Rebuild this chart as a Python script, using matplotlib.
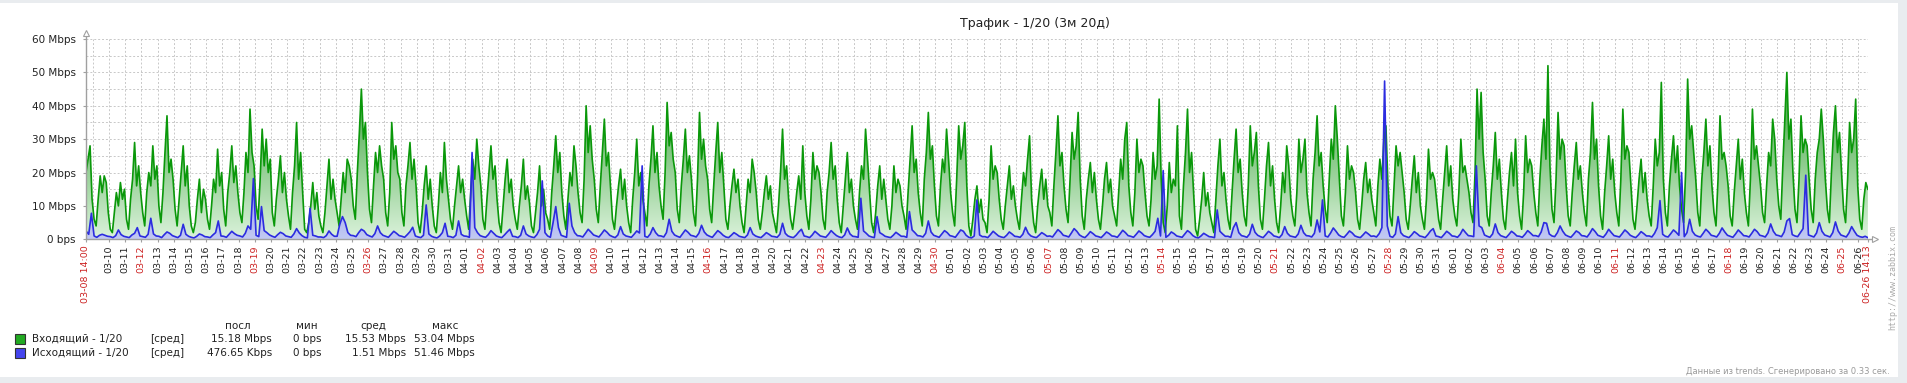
import numpy as np
import matplotlib
matplotlib.use("Agg")
import matplotlib.pyplot as plt
import matplotlib.dates as mdates
from matplotlib.patches import Polygon, Rectangle

# incoming: samples every 3 hours (02, 05, 08, 11, 14, 17, 20, 23);
# first day starts 14:00, last day ends 14:00
incoming_mbps = [
    [20, 24, 28, 12],                       # 03-08
    [6, 4, 12, 19, 14, 19, 17, 8],          # 03-09
    [3, 2, 8, 14, 10, 17, 12, 15],
    [6, 3, 12, 18, 29, 16, 22, 14],
    [8, 4, 14, 20, 16, 28, 18, 22],
    [10, 5, 14, 26, 37, 20, 24, 18],
    [9, 4, 12, 20, 28, 16, 22, 10],
    [4, 2, 5, 12, 18, 8, 15, 12],
    [6, 3, 10, 18, 14, 27, 16, 20],
    [9, 4, 14, 20, 28, 17, 22, 14],
    [8, 5, 14, 26, 20, 39, 26, 22],         # 03-18
    [10, 6, 18, 33, 22, 30, 20, 24],
    [8, 4, 12, 18, 25, 14, 20, 12],
    [7, 3, 14, 22, 35, 18, 26, 14],
    [3, 2, 5, 10, 17, 9, 14, 7],
    [4, 2, 8, 16, 24, 12, 18, 12],
    [8, 4, 12, 20, 14, 24, 22, 18],
    [10, 6, 20, 32, 45, 30, 35, 20],        # 03-25
    [9, 5, 16, 26, 20, 28, 22, 18],
    [8, 4, 14, 35, 24, 28, 20, 18],
    [8, 4, 16, 22, 29, 18, 24, 16],
    [5, 2, 8, 16, 22, 12, 18, 10],
    [4, 2, 10, 20, 14, 29, 18, 12],
    [6, 3, 10, 16, 22, 14, 18, 12],         # 03-31
    [7, 3, 14, 24, 18, 30, 22, 16],
    [6, 3, 12, 20, 28, 18, 22, 12],
    [5, 2, 10, 18, 24, 14, 18, 10],
    [6, 3, 10, 16, 24, 12, 16, 11],
    [4, 2, 8, 14, 22, 10, 15, 8],
    [6, 3, 14, 22, 31, 20, 26, 14],
    [7, 3, 12, 20, 16, 28, 22, 14],
    [8, 5, 18, 40, 26, 34, 24, 18],         # 04-08
    [9, 5, 16, 26, 36, 22, 26, 16],
    [6, 3, 10, 16, 21, 12, 18, 10],
    [5, 2, 12, 20, 30, 16, 20, 12],
    [8, 4, 16, 24, 34, 20, 26, 16],
    [10, 6, 20, 41, 28, 32, 24, 20],
    [9, 5, 16, 24, 33, 20, 25, 18],
    [8, 4, 18, 38, 24, 30, 22, 18],         # 04-15
    [9, 5, 16, 26, 35, 20, 26, 16],
    [6, 3, 10, 16, 21, 14, 18, 10],
    [5, 2, 10, 18, 14, 24, 20, 14],
    [6, 3, 8, 14, 19, 12, 16, 8],
    [5, 2, 10, 20, 33, 18, 22, 12],
    [6, 3, 8, 14, 19, 12, 28, 14],
    [7, 3, 12, 26, 18, 22, 20, 14],         # 04-22
    [6, 3, 14, 20, 29, 18, 22, 12],
    [5, 2, 10, 18, 26, 14, 18, 10],
    [6, 3, 14, 22, 18, 33, 24, 14],
    [5, 2, 8, 16, 22, 12, 18, 12],
    [6, 3, 10, 22, 14, 18, 16, 10],
    [7, 3, 14, 24, 34, 20, 24, 14],
    [8, 4, 18, 26, 38, 24, 28, 16],         # 04-29
    [7, 4, 16, 24, 20, 33, 24, 14],
    [8, 4, 18, 34, 24, 28, 35, 16],
    [4, 1, 6, 12, 16, 8, 12, 6],
    [5, 2, 12, 28, 18, 22, 20, 12],
    [6, 3, 10, 16, 22, 12, 16, 10],
    [6, 3, 12, 20, 16, 24, 31, 12],
    [5, 2, 10, 16, 21, 12, 18, 10],         # 05-06
    [8, 4, 16, 26, 37, 22, 26, 16],
    [9, 5, 18, 32, 24, 28, 38, 18],
    [7, 3, 12, 18, 23, 14, 20, 12],
    [6, 3, 10, 18, 23, 14, 18, 10],
    [7, 4, 14, 24, 18, 30, 35, 16],
    [8, 4, 14, 30, 20, 24, 22, 14],
    [7, 4, 12, 26, 18, 22, 42, 18],         # 05-13
    [5, 2, 10, 23, 14, 18, 16, 34],
    [7, 3, 16, 26, 39, 20, 26, 14],
    [3, 1, 6, 12, 20, 10, 14, 8],
    [5, 2, 12, 22, 30, 16, 20, 12],
    [6, 3, 14, 24, 33, 20, 24, 14],
    [7, 4, 16, 34, 22, 26, 32, 16],
    [6, 3, 12, 22, 29, 16, 22, 12],         # 05-20
    [5, 2, 10, 20, 14, 28, 22, 12],
    [7, 4, 14, 30, 20, 24, 30, 14],
    [8, 4, 18, 26, 37, 22, 26, 16],
    [9, 5, 18, 30, 24, 40, 30, 18],
    [7, 4, 14, 28, 18, 22, 20, 14],
    [6, 3, 10, 18, 23, 14, 18, 12],
    [8, 4, 16, 24, 18, 30, 34, 16],         # 05-27
    [7, 4, 16, 28, 22, 26, 20, 14],
    [6, 3, 10, 18, 25, 14, 20, 10],
    [6, 3, 12, 27, 18, 20, 18, 12],
    [6, 3, 12, 20, 28, 16, 22, 12],
    [7, 4, 14, 30, 20, 22, 18, 14],
    [8, 5, 20, 45, 30, 44, 26, 18],
    [7, 4, 14, 22, 32, 18, 24, 14],         # 06-03
    [6, 3, 12, 20, 26, 16, 30, 14],
    [7, 3, 14, 31, 20, 24, 22, 14],
    [8, 4, 18, 28, 36, 24, 52, 22],
    [9, 5, 18, 38, 24, 30, 28, 16],
    [7, 4, 14, 22, 29, 18, 22, 14],
    [8, 4, 18, 26, 41, 24, 30, 16],
    [7, 3, 14, 22, 31, 18, 24, 14],         # 06-10
    [8, 4, 18, 39, 24, 28, 26, 16],
    [6, 3, 10, 18, 24, 14, 20, 12],
    [7, 4, 16, 30, 22, 26, 47, 18],
    [8, 4, 16, 24, 31, 20, 28, 16],
    [9, 5, 20, 48, 30, 34, 26, 18],
    [8, 4, 18, 26, 36, 22, 28, 16],
    [8, 4, 18, 37, 24, 26, 22, 16],         # 06-17
    [7, 4, 14, 22, 30, 18, 24, 14],
    [8, 4, 18, 39, 24, 28, 22, 16],
    [8, 5, 16, 26, 22, 36, 30, 18],
    [10, 6, 22, 36, 50, 30, 36, 20],
    [9, 5, 18, 37, 26, 30, 28, 18],
    [9, 5, 18, 26, 30, 39, 30, 18],
    [9, 5, 20, 32, 40, 26, 32, 20],         # 06-24
    [9, 5, 18, 35, 26, 30, 42, 16],
    [6, 3, 12, 17, 15],                     # 06-26
]

# outgoing: samples every 4 hours (02, 06, 10, 14, 18, 22)
outgoing_mbps = [
    [2.5, 1.5, 7.8],
    [1.0, 0.6, 1.2, 1.5, 1.2, 0.9],
    [0.8, 0.5, 1.1, 2.8, 1.4, 0.9],
    [0.7, 0.5, 1.3, 1.8, 3.5, 1.0],
    [0.8, 0.6, 1.5, 6.3, 1.6, 1.0],
    [0.9, 0.5, 1.4, 2.2, 1.8, 1.1],
    [0.8, 0.5, 1.2, 4.5, 1.5, 0.9],
    [0.6, 0.4, 0.9, 1.6, 1.3, 0.8],
    [0.7, 0.5, 1.3, 2.0, 5.5, 1.0],
    [0.9, 0.6, 1.5, 2.4, 1.7, 1.2],
    [1.0, 0.7, 1.8, 4.0, 3.0, 18.2],
    [1.2, 0.8, 9.8, 2.6, 2.0, 1.3],
    [0.9, 0.6, 1.4, 2.1, 1.7, 1.0],
    [0.8, 0.6, 1.6, 3.2, 1.9, 1.1],
    [0.6, 0.4, 9.3, 1.2, 1.0, 0.7],
    [0.7, 0.5, 1.1, 2.5, 1.5, 0.9],
    [0.9, 4.5, 6.8, 5.0, 2.0, 1.2],
    [1.1, 0.8, 2.0, 3.0, 2.5, 1.4],
    [1.0, 0.7, 1.7, 4.0, 2.0, 1.2],
    [0.9, 0.6, 1.5, 2.4, 1.8, 1.1],
    [0.9, 0.6, 1.4, 2.3, 3.6, 1.0],
    [0.7, 0.5, 1.2, 10.3, 1.6, 0.9],
    [0.6, 0.4, 1.0, 2.0, 4.8, 0.9],
    [0.8, 0.5, 1.2, 5.5, 1.5, 1.0],
    [0.9, 0.6, 26.0, 3.5, 2.0, 1.1],
    [0.8, 0.6, 1.4, 2.6, 1.8, 1.0],
    [0.7, 0.5, 1.3, 2.2, 3.0, 0.9],
    [0.8, 0.5, 1.2, 4.0, 1.6, 1.0],
    [0.7, 0.5, 1.4, 3.0, 17.5, 2.0],
    [1.0, 0.6, 5.0, 9.8, 3.5, 1.2],
    [0.9, 0.6, 10.8, 4.0, 2.0, 1.1],
    [1.0, 0.7, 1.8, 3.0, 2.2, 1.3],
    [1.0, 0.7, 1.7, 2.8, 2.1, 1.2],
    [0.8, 0.5, 1.3, 3.8, 1.6, 1.0],
    [0.8, 0.6, 1.5, 2.5, 1.9, 22.0],
    [0.9, 0.6, 1.6, 3.5, 2.0, 1.1],
    [1.0, 0.7, 2.0, 6.0, 2.4, 1.3],
    [0.9, 0.6, 1.7, 2.8, 2.1, 1.2],
    [1.0, 0.7, 1.8, 4.2, 2.2, 1.3],
    [0.9, 0.6, 1.6, 2.6, 2.0, 1.2],
    [0.7, 0.5, 1.2, 2.0, 1.5, 0.9],
    [0.7, 0.5, 1.3, 3.5, 1.6, 1.0],
    [0.7, 0.5, 1.2, 2.0, 1.5, 0.9],
    [0.8, 0.6, 1.5, 4.8, 1.8, 1.0],
    [0.7, 0.5, 1.2, 2.2, 3.0, 1.0],
    [0.8, 0.5, 1.3, 2.4, 1.7, 1.0],
    [0.8, 0.6, 1.5, 2.6, 1.8, 1.1],
    [0.7, 0.5, 1.3, 3.4, 1.6, 0.9],
    [0.8, 0.6, 12.3, 2.5, 1.8, 1.0],
    [0.7, 0.5, 6.8, 2.0, 1.5, 0.9],
    [0.7, 0.5, 1.2, 2.1, 1.5, 0.9],
    [0.9, 0.6, 8.3, 2.8, 2.0, 1.1],
    [1.0, 0.7, 1.8, 5.5, 2.2, 1.2],
    [0.9, 0.6, 1.6, 2.6, 2.0, 1.1],
    [0.9, 0.6, 1.7, 2.8, 2.4, 1.2],
    [0.6, 0.4, 1.0, 11.8, 1.3, 0.8],
    [0.8, 0.5, 1.4, 2.4, 1.7, 1.0],
    [0.7, 0.5, 1.2, 2.2, 1.6, 0.9],
    [0.8, 0.6, 1.5, 3.6, 1.8, 1.0],
    [0.7, 0.5, 1.2, 2.0, 1.5, 0.9],
    [1.0, 0.7, 1.8, 2.9, 2.2, 1.2],
    [1.0, 0.7, 1.9, 3.2, 2.4, 1.3],
    [0.8, 0.5, 1.3, 2.3, 1.7, 1.0],
    [0.8, 0.5, 1.3, 2.2, 1.7, 1.0],
    [0.9, 0.6, 1.6, 2.7, 2.0, 1.1],
    [0.9, 0.6, 1.5, 2.5, 1.9, 1.1],
    [0.8, 0.6, 1.4, 2.4, 6.3, 1.0],
    [20.6, 0.6, 1.2, 2.2, 1.7, 1.0],
    [0.8, 0.6, 1.6, 2.6, 2.0, 1.1],
    [0.6, 0.4, 1.0, 1.8, 1.3, 0.8],
    [0.7, 0.5, 8.8, 2.4, 1.6, 0.9],
    [0.9, 0.6, 3.5, 5.0, 2.0, 1.1],
    [0.9, 0.6, 1.6, 4.5, 2.1, 1.2],
    [0.8, 0.5, 1.4, 2.4, 1.8, 1.0],
    [0.8, 0.5, 1.4, 3.8, 1.8, 1.0],
    [0.8, 0.6, 1.6, 4.2, 2.0, 1.1],
    [1.0, 0.7, 1.8, 5.8, 2.2, 11.8],
    [1.0, 0.7, 1.9, 3.4, 2.4, 1.3],
    [0.8, 0.6, 1.5, 2.5, 1.9, 1.0],
    [0.7, 0.5, 1.3, 2.2, 1.6, 0.9],
    [1.0, 0.7, 1.7, 3.5, 47.4, 4.0],
    [0.9, 0.6, 1.6, 6.8, 2.0, 1.1],
    [0.8, 0.5, 1.3, 2.3, 1.7, 1.0],
    [0.8, 0.5, 1.4, 2.5, 3.2, 1.0],
    [0.8, 0.5, 1.4, 2.4, 1.8, 1.0],
    [0.9, 0.6, 1.5, 3.0, 2.0, 1.1],
    [1.0, 0.8, 22.0, 4.0, 3.5, 1.3],
    [0.9, 0.6, 1.6, 4.6, 2.0, 1.1],
    [0.8, 0.5, 1.4, 2.4, 1.8, 1.0],
    [0.9, 0.6, 1.5, 2.6, 1.9, 1.1],
    [1.1, 0.8, 2.2, 5.0, 4.8, 1.6],
    [1.0, 0.8, 2.0, 4.0, 2.4, 1.3],
    [0.9, 0.6, 1.5, 2.5, 2.0, 1.1],
    [1.0, 0.7, 1.8, 3.2, 2.3, 1.2],
    [0.9, 0.6, 1.6, 3.0, 2.0, 1.1],
    [0.9, 0.7, 1.7, 2.8, 2.1, 1.2],
    [0.8, 0.5, 1.3, 2.3, 1.7, 1.0],
    [1.0, 0.7, 1.8, 3.5, 11.6, 1.5],
    [0.9, 0.7, 1.7, 2.8, 2.1, 1.2],
    [20.0, 0.8, 2.0, 6.0, 2.4, 1.3],
    [0.9, 0.7, 1.8, 3.0, 2.2, 1.2],
    [1.0, 0.7, 1.8, 3.4, 2.2, 1.2],
    [0.9, 0.6, 1.6, 2.8, 2.0, 1.1],
    [1.0, 0.7, 1.8, 3.0, 2.3, 1.2],
    [1.0, 0.7, 1.9, 4.6, 2.4, 1.3],
    [1.1, 0.8, 2.2, 5.5, 6.2, 1.4],
    [1.0, 0.8, 2.0, 3.2, 19.2, 1.3],
    [1.0, 0.7, 1.9, 5.0, 2.4, 1.3],
    [1.0, 0.7, 2.0, 5.2, 2.5, 1.3],
    [1.0, 0.7, 1.9, 3.8, 2.4, 1.2],
    [0.8, 0.6, 0.9, 0.5],
]

legend_names = ["Входящий - 1/20", "Исходящий - 1/20"]
legend_last = ["15.18 Mbps", "476.65 Kbps"]
legend_min = ["0 bps", "0 bps"]
legend_avg = ["15.53 Mbps", "1.51 Mbps"]
legend_max = ["53.04 Mbps", "51.46 Mbps"]

W, H = 1908, 383
GREEN = "#0a980a"
BLUE = "#2c2ce0"

inc = np.concatenate([np.array(r, float) for r in incoming_mbps])
out = np.concatenate([np.array(r, float) for r in outgoing_mbps])
t0 = np.datetime64("2012-03-08T14:00")
t_end = np.datetime64("2012-06-26T14:13")
t_inc = mdates.date2num(t0 + np.arange(len(inc)) * np.timedelta64(3, "h"))
t_out = mdates.date2num(t0 + np.arange(len(out)) * np.timedelta64(4, "h"))
xmin, xmax = mdates.date2num(t0), mdates.date2num(t_end)

fig = plt.figure(figsize=(W / 100, H / 100), dpi=100, facecolor="#e9ecef")
fig.patches.append(Rectangle((0, 6 / H), 1898 / W, 1 - 9 / H, transform=fig.transFigure,
                             facecolor="white", edgecolor="none", zorder=-10))

x0, x1, ytop, ybot = 86, 1868, 39, 239.3
ax = fig.add_axes([x0 / W, 1 - ybot / H, (x1 - x0) / W, (ybot - ytop) / H])
ax.set_facecolor("none")


def gradient_fill(xs, ys, c_lo, c_hi, z):
    verts = np.column_stack([np.r_[xs[0], xs, xs[-1]], np.r_[0, ys, 0]])
    patch = Polygon(verts, closed=True, facecolor="none", edgecolor="none")
    ax.add_patch(patch)
    g = np.linspace(0, 1, 256)[:, None, None]
    lo, hi = np.array(c_lo), np.array(c_hi)
    img = lo[None, None, :] + (hi - lo)[None, None, :] * g
    im = ax.imshow(img, extent=[xs[0], xs[-1], 0, 60], origin="lower",
                   aspect="auto", zorder=z, interpolation="bilinear")
    im.set_clip_path(patch)


gradient_fill(t_inc, inc, (0.86, 0.95, 0.86), (0.05, 0.55, 0.05), 2)
gradient_fill(t_out, out, (0.76, 0.79, 0.95), (0.20, 0.20, 0.90), 3)
ax.plot(t_inc, inc, color=GREEN, lw=1.2, zorder=4)
ax.plot(t_out, out, color=BLUE, lw=1.2, zorder=5)

ax.set_xlim(xmin, xmax)
ax.set_ylim(0, 60)

# grid
for v in range(5, 61, 5):
    ax.axhline(v, color="#c8c8c8", lw=0.7, ls=(0, (2, 2)), zorder=1)
days = mdates.date2num(np.arange(np.datetime64("2012-03-09"), np.datetime64("2012-06-27"),
                                 np.timedelta64(1, "D")).astype("datetime64[m]"))
for d in days:
    ax.axvline(d, color="#c8c8c8", lw=0.7, ls=(0, (2, 2)), zorder=1)
ax.axvline(xmax, color="#c8c8c8", lw=0.7, ls=(0, (2, 2)), zorder=1)

for s in ax.spines.values():
    s.set_visible(False)
ax.plot([0, 0], [0, 1.03], transform=ax.transAxes, color="#a0a0a0", lw=1, clip_on=False, zorder=6)
ax.plot([0, 1.004], [0, 0], transform=ax.transAxes, color="#a0a0a0", lw=1, clip_on=False, zorder=6)
ax.plot([0], [1.03], transform=ax.transAxes, marker="^", ms=5, mfc="white", mec="#a0a0a0",
        mew=0.8, clip_on=False, zorder=7)
ax.plot([1.004], [0], transform=ax.transAxes, marker=">", ms=5, mfc="white", mec="#a0a0a0",
        mew=0.8, clip_on=False, zorder=7)

# y ticks
yt = list(range(0, 61, 10))
ax.set_yticks(yt)
ax.set_yticklabels(["0 bps"] + [f"{v} Mbps" for v in yt[1:]])
ax.tick_params(axis="y", length=2.5, width=0.8, color="#a0a0a0", pad=5,
               labelsize=7.5, labelcolor="#222222")

# x ticks: start, midnights from 03-10, end
tick_days = days[1:]
xt = [xmin] + list(tick_days) + [xmax]
xl = ["03-08 14:00"] + [mdates.num2date(d).strftime("%m-%d") for d in tick_days] + ["06-26 14:13"]
ax.set_xticks(xt)
ax.set_xticklabels(xl, rotation=90, va="top", ha="center")
ax.tick_params(axis="x", length=2.5, width=0.8, color="#a0a0a0", pad=2,
               labelsize=6.8, labelcolor="#222222")
for lab, d in zip(ax.get_xticklabels(), xt):
    dt = mdates.num2date(d)
    if d in (xmin, xmax) or (dt.weekday() == 0 and dt.hour == 0):
        lab.set_color("#cc2222")

# title
fig.text(1035 / W, 1 - 23 / H, "Трафик - 1/20 (3м 20д)", ha="center", va="center",
         fontsize=9, color="#222222")


def fx(px):
    return px / W


def fy(py):
    return 1 - py / H


# legend block
hdr_y = 326
for txt, cx in [("посл", 238), ("мин", 307), ("сред", 373), ("макс", 445)]:
    fig.text(fx(cx), fy(hdr_y), txt, ha="center", va="center", fontsize=7.5, color="#222222")
rows_y = [339, 353]
for i in range(2):
    y = rows_y[i]
    fig.patches.append(Rectangle((fx(15), fy(y + 5)), 10 / W, 10 / H, transform=fig.transFigure,
                                 facecolor=["#22aa22", "#4444ee"][i], edgecolor="#333333", lw=0.8))
    fig.text(fx(32), fy(y), legend_names[i], ha="left", va="center", fontsize=7.5, color="#222222")
    fig.text(fx(150), fy(y), "[сред]", ha="left", va="center", fontsize=7.5, color="#222222")
    fig.text(fx(272), fy(y), legend_last[i], ha="right", va="center", fontsize=7.5, color="#222222")
    fig.text(fx(322), fy(y), legend_min[i], ha="right", va="center", fontsize=7.5, color="#222222")
    fig.text(fx(406), fy(y), legend_avg[i], ha="right", va="center", fontsize=7.5, color="#222222")
    fig.text(fx(475), fy(y), legend_max[i], ha="right", va="center", fontsize=7.5, color="#222222")

fig.text(fx(1890), fy(372), "Данные из trends. Сгенерировано за 0.33 сек.", ha="right",
         va="center", fontsize=6, color="#999999")
fig.text(fx(1893), fy(278), "http://www.zabbix.com", rotation=90, ha="center", va="center",
         fontsize=6, color="#aaaaaa", family="DejaVu Sans Mono")

fig.savefig("out.png", dpi=100, facecolor=fig.get_facecolor())
